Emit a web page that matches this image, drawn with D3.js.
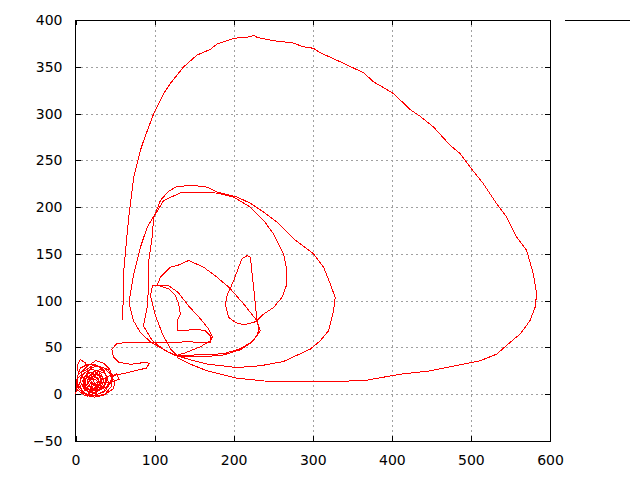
<!DOCTYPE html>
<html>
<head>
<meta charset="utf-8">
<script src="https://cdn.jsdelivr.net/npm/d3@7"></script>
<style>
body { margin: 0; background: #fff; }
text { font-family: "DejaVu Sans", sans-serif; font-size: 14px; fill: #000; }
</style>
</head>
<body>
<svg id="chart" width="640" height="480"></svg>
<script>

// tick values
var xTicks = [0, 100, 200, 300, 400, 500, 600]
var yTicks = [-50, 0, 50, 100, 150, 200, 250, 300, 350, 400]

// trajectory (x, y)
var tangle = [[0,0],[3,10],[8,4],[15,-2],[25,1],[32,8],[28,18],[18,20],[10,14],[14,6],[24,4],[33,12],[30,24],[20,27],[10,22],[5,12],[9,2],[20,-2],[35,2],[42,12],[38,22],[26,26],[16,18],[20,10],[30,10],[34,18],[26,22],[18,14],[22,6],[31,5],[40,8],[46,16],[42,26],[30,30],[16,32],[6,28],[2,18],[4,6],[12,0],[26,-2],[38,0],[48,6],[50,14],[44,20],[34,16],[28,8],[22,12],[24,20],[32,22],[36,14],[30,4],[18,4],[12,12],[16,24],[12,34],[6,37],[2,30],[4,22],[14,26],[24,32],[34,28],[40,18],[36,8],[26,10],[20,18],[28,24],[38,26],[44,22],[48,20]]

var tangle2 = [[44,12],[38,4],[28,0],[17,2],[11,8],[13,17],[21,22],[30,20],[33,13],[28,6],[19,7],[16,13],[21,17],[27,15],[29,9],[24,5],[16,9],[14,19],[19,28],[28,30],[37,24],[40,15],[35,6],[24,2],[12,4],[6,14],[8,24],[15,30],[26,36],[36,33],[43,27],[47,18],[45,8],[36,-1],[24,-3],[11,-1],[2,5],[1,15],[6,20],[12,16],[10,8],[17,1],[28,3],[37,10],[39,20],[33,27],[23,24],[18,16],[23,9],[31,11],[32,19],[25,24],[14,22],[9,14],[15,5],[25,7],[30,14],[24,19],[17,18],[19,11],[26,12],[42,12],[55,16],[52,22],[48,20]]

var exitLoop = [[60,22],[75,25],[90,28],[93,33],[88,34],[70,32],[55,34],[48,40],[46,48],[52,54],[62,55],[85,55],[110,55],[140,56],[170.5,55.3]]

var notchLoop = [[170.5,62.5],[164.2,67.9],[151.6,69.7],[138.9,67.9],[128.5,67.9],[128.5,78.6],[132.6,85.7],[130.5,96.4],[126.3,105.4],[117.9,112.5],[105.2,116.1],[97.3,116.1]]

var innerBottom = [[94.7,105.4],[101.1,83.9],[109.9,64.6],[120,48.6],[128.5,41.1],[157.9,42.2],[186.9,43.2],[208.4,48.6],[221.1,55],[229.9,62.5],[231.8,71.1],[229.5,78.6]]

var triangleLoop = [[225.2,114.2],[221.1,146.4],[216.9,148.2],[210.6,144.7],[206.3,135.7],[200,121.4],[191.6,105.4],[189.5,96.5],[193.6,82.1],[202.1,76.7],[212.6,74.3],[225.2,76.7],[229.5,78.6]]

var midLoop = [[212.6,96.5],[194.1,114.2],[179,125],[162.1,135.7],[143.1,142.9],[128.5,137.5],[120,135.7],[107.4,125],[103.2,116.1]]

var rightLoop = [[117.5,116.1],[130.1,108.6],[142.7,94.6],[157.9,80.7],[168,70],[173,61.4],[170.5,57.1],[157.9,50.7],[138.9,44.3],[126.3,41.1]]

var outerMedium = [[107.4,49.6],[94.7,56.1],[82.1,65.7],[73.3,78.6],[68.6,94.6],[68.6,103.5],[73.6,128.6],[82.1,157.1],[90.6,178.5],[101.1,193.2],[107.4,207.1],[117.5,216.8],[128.5,222.1],[149.1,223.2],[166.4,221.4],[179,216],[204.3,210.7],[221.1,204.2],[237.9,194.6],[254.8,183.9],[275.8,166.1],[301.1,150],[313.7,135.7],[322.1,117.9],[328.4,103.5],[326.3,89.3],[320,67.9],[309.5,57.1],[296.8,48.2],[263.1,35],[233.7,30.4],[204.3,28.5],[166.4,32.2],[145.3,36.8],[128.5,41.1]]

var innerMedium = [[113.7,46.4],[97.3,57.1],[85.9,73.2],[90.9,94.6],[92.6,117.9],[92.6,142.9],[96.9,167.8],[98.9,189.3],[111.5,207.1],[134.8,216],[153.7,216],[179,215],[200,210.7],[221.1,200],[237.9,185.7],[250.5,171.4],[263.1,150],[267.4,132.1],[267.4,117.9],[261.1,103.5],[250.5,92.8],[237.9,85.7],[229.5,78.6],[233.7,67.9],[223.6,56.1],[208.4,47.5],[185.7,41.6],[157.9,40],[138.9,40],[128.5,41.1]]

var outerLoop = [[128.4,39.3],[145.3,32.1],[166.3,25],[204.2,17.1],[246.3,13.5],[330.5,13.5],[368.4,15],[410.5,21.4],[448.4,25],[490.5,32.1],[511.6,35.7],[532.6,42.9],[549.5,55.4],[562.1,64.3],[574.7,78.6],[581.1,92.8],[583.2,107.2],[578.9,128.6],[570.5,153.6],[557.9,167.9],[545.3,189.3],[532.6,203.6],[515.7,225],[498.9,242.9],[486.3,257.2],[473.7,266.1],[452.6,285.7],[435.8,297.1],[423.2,304.3],[402.1,321.4],[376.8,334],[364.2,343.6],[334.7,355.4],[309.5,365],[301.1,369.7],[288.4,371.4],[273.8,375.7],[250.6,377.8],[229.6,381.4],[225.3,383.9],[221.1,382.1],[200,380.4],[179,374.3],[170.5,368.6],[153.7,362.5],[136.8,350],[120,332.2],[111.5,321.5],[98.9,300],[86.3,271.4],[82.1,260.7],[73.6,232.1],[67.3,189.3],[61,132.1],[59.7,79.3]]

var path = [].concat(tangle, tangle2, exitLoop, notchLoop, innerBottom, triangleLoop, midLoop, rightLoop, outerMedium, innerMedium, outerLoop)

var margins = { top: 20, bottom: 39, left: 75.5, right: 90 }
var width = 640 - margins.left - margins.right
var height = 480 - margins.top - margins.bottom

var svg = d3.select('#chart')

var xScale = d3.scaleLinear().domain([0, 600]).range([0, width])
var yScale = d3.scaleLinear().domain([-50, 400]).range([height, 0])

var g = svg.append('g')
.attr("transform", "translate(" + margins.left + "," + margins.top + ")")

//grid
g.append('g')
.selectAll('line')
.data(xTicks.slice(1, -1))
.enter()
.append('line')
.attr("x1", function(d){ return Math.round(xScale(d)) + 0.5 })
.attr("x2", function(d){ return Math.round(xScale(d)) + 0.5 })
.attr("y1", 0)
.attr("y2", height)
.style("stroke", "#a0a0a0")
.style("stroke-dasharray", "2,3")
.style("shape-rendering", "crispEdges")

g.append('g')
.selectAll('line')
.data(yTicks.slice(1, -1))
.enter()
.append('line')
.attr("y1", function(d){ return Math.round(yScale(d)) + 0.5 })
.attr("y2", function(d){ return Math.round(yScale(d)) + 0.5 })
.attr("x1", 0)
.attr("x2", width)
.style("stroke", "#a0a0a0")
.style("stroke-dasharray", "2,3")
.style("shape-rendering", "crispEdges")

//axes, gnuplot style: ticks point inward on every side
var xAxis = d3.axisBottom(xScale).tickValues(xTicks).tickSize(-5).tickPadding(14)
var yAxis = d3.axisLeft(yScale).tickValues(yTicks).tickSize(-5).tickPadding(13)
var xTop = d3.axisTop(xScale).tickValues(xTicks).tickSize(-5).tickFormat("")
var yRight = d3.axisRight(yScale).tickValues(yTicks).tickSize(-5).tickFormat("")

g.append('g').attr("transform", "translate(0," + height + ")").call(xAxis)
g.append('g').call(yAxis)
g.append('g').call(xTop)
g.append('g').attr("transform", "translate(" + width + ",0)").call(yRight)

g.selectAll('.domain').remove()
g.selectAll('.tick line').style("stroke", "#000").style("shape-rendering", "crispEdges")
g.selectAll('.tick text').style("font-family", "DejaVu Sans").style("font-size", "14px").style("fill", "#000")

g.append('rect')
.attr("x", 0)
.attr("y", 0)
.attr("width", width)
.attr("height", height)
.style("fill", "none")
.style("stroke", "#000")
.style("shape-rendering", "crispEdges")

//the curve
var line = d3.line()
.x(function(d){ return xScale(d[0]) })
.y(function(d){ return yScale(d[1]) })

g.append('path')
.datum(path)
.attr("d", line)
.style("fill", "none")
.style("stroke", "#ff0000")
.style("stroke-width", "1px")
.style("shape-rendering", "crispEdges")

//key sample, no title
svg.append('line')
.attr("x1", 565)
.attr("x2", 630)
.attr("y1", 20.5)
.attr("y2", 20.5)
.style("stroke", "#000")
.style("shape-rendering", "crispEdges")

</script>
</body>
</html>
